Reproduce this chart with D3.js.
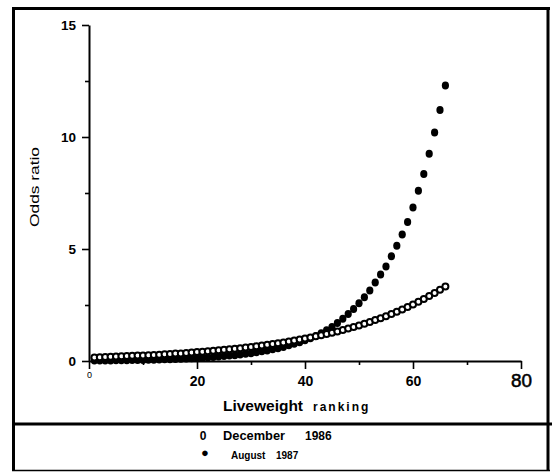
<!DOCTYPE html>
<html><head><meta charset="utf-8">
<script src="https://cdn.jsdelivr.net/npm/d3@7"></script>
<style>
html,body{margin:0;padding:0;background:#fff;}
svg{display:block;font-family:"Liberation Sans",Arial,sans-serif;}
</style></head>
<body><svg id="c" width="555" height="472"></svg>
<script>
const ranks = d3.range(1, 67);
const december1986 = [0.16,0.17,0.18,0.19,0.20,0.21,0.22,0.23,0.24,0.25,
  0.26,0.27,0.28,0.30,0.31,0.33,0.34,0.36,0.38,0.40,
  0.41,0.43,0.46,0.48,0.50,0.52,0.55,0.57,0.60,0.63,
  0.66,0.69,0.72,0.76,0.79,0.83,0.87,0.91,0.955,1.00,
  1.05,1.10,1.15,1.20,1.26,1.32,1.38,1.45,1.52,1.59,
  1.66,1.74,1.83,1.91,2.00,2.10,2.20,2.30,2.41,2.52,
  2.64,2.77,2.90,3.04,3.18,3.33];
const august1987 = [0.02,0.022,0.025,0.027,0.03,0.033,0.037,0.04,0.045,0.05,
  0.055,0.06,0.07,0.075,0.08,0.09,0.10,0.11,0.12,0.13,
  0.15,0.16,0.18,0.20,0.22,0.24,0.26,0.29,0.32,0.35,
  0.39,0.43,0.47,0.52,0.57,0.63,0.70,0.77,0.84,0.93,
  1.02,1.12,1.24,1.37,1.52,1.70,1.89,2.10,2.32,2.58,
  2.85,3.15,3.50,3.86,4.22,4.68,5.15,5.65,6.20,6.85,
  7.60,8.35,9.25,10.2,11.2,12.3];
const xTicks = [0,20,40,60,80];
const xMinor = [10,30,50,70];
const yTicks = [0,5,10,15];
const yMinor = [2.5,7.5,12.5];
const xTitle1 = "Liveweight", xTitle2 = "ranking";
const yTitle = "Odds ratio";
const legendLabels = [["0","December","1986"],["\u25CF","August","1987"]];

const svg = d3.select("#c");
const x = d3.scaleLinear().domain([0,80]).range([89,521]);
const y = d3.scaleLinear().domain([0,15]).range([361,25]);

// frame
const frame = svg.append("g").attr("stroke","#000").attr("fill","none");
frame.append("line").attr("x1",13.5).attr("x2",13.5).attr("y1",7).attr("y2",471).attr("stroke-width",3);
frame.append("line").attr("x1",12).attr("x2",550).attr("y1",8.5).attr("y2",8.5).attr("stroke-width",3);
frame.append("line").attr("x1",548).attr("x2",548).attr("y1",7).attr("y2",471).attr("stroke-width",3);
frame.append("line").attr("x1",12).attr("x2",552).attr("y1",424).attr("y2",424).attr("stroke-width",3);
frame.append("line").attr("x1",12).attr("x2",550).attr("y1",470.5).attr("y2",470.5).attr("stroke-width",1.5);

// axes
const yAxis = svg.append("g").attr("transform","translate(89,0)")
  .call(d3.axisLeft(y).tickValues(yTicks).tickSize(7).tickSizeOuter(0).tickPadding(6));
svg.append("g").attr("transform","translate(89,0)")
  .call(d3.axisLeft(y).tickValues(yMinor).tickSize(4).tickSizeOuter(0).tickFormat(""))
  .select(".domain").remove();
const xAxis = svg.append("g").attr("transform","translate(0,361)")
  .call(d3.axisBottom(x).tickValues(xTicks).tickSize(8).tickSizeOuter(0).tickPadding(6));
svg.append("g").attr("transform","translate(0,361)")
  .call(d3.axisBottom(x).tickValues(xMinor).tickSize(4).tickSizeOuter(0).tickFormat(""))
  .select(".domain").remove();
svg.selectAll(".domain").attr("stroke-width",2);
svg.selectAll(".tick line").attr("stroke-width",1.6);
yAxis.selectAll("text").attr("font-size",13.5).attr("font-weight","bold").attr("fill","#000")
  .attr("font-family","Liberation Sans, Arial, sans-serif");
xAxis.selectAll("text").attr("font-size",14).attr("font-weight","bold").attr("fill","#000")
  .attr("font-family","Liberation Sans, Arial, sans-serif").attr("dy","0.75em");
xAxis.selectAll(".tick").filter(d=>d===0).select("text").attr("font-size",9).attr("font-weight","normal").attr("y",10);
xAxis.selectAll(".tick").filter(d=>d===80).select("text").attr("font-size",18).attr("font-weight","normal")
  .attr("y",12).attr("textLength",21).attr("lengthAdjust","spacingAndGlyphs")
  .attr("stroke","#000").attr("stroke-width",0.5);

// data
const pts = svg.append("g");
pts.selectAll("ellipse.aug").data(august1987).join("ellipse").attr("class","aug")
  .attr("cx",(d,i)=>x(ranks[i])).attr("cy",d=>y(d))
  .attr("rx",3.6).attr("ry",4).attr("fill","#000");
pts.selectAll("circle.dec").data(december1986).join("circle").attr("class","dec")
  .attr("cx",(d,i)=>x(ranks[i])).attr("cy",d=>y(d))
  .attr("r",3).attr("fill","#fff").attr("stroke","#000").attr("stroke-width",2);

// titles
svg.append("text").attr("x",223).attr("y",411).attr("font-size",15).attr("font-weight","bold")
  .attr("textLength",80).attr("lengthAdjust","spacingAndGlyphs").text(xTitle1);
svg.append("text").attr("x",313).attr("y",411).attr("font-size",12).attr("font-weight","bold")
  .attr("letter-spacing",2).text(xTitle2);
svg.append("text").attr("transform","translate(39,187) rotate(-90)").attr("text-anchor","middle")
  .attr("font-size",13).attr("textLength",80).attr("lengthAdjust","spacingAndGlyphs").text(yTitle);

// legend
const leg = svg.append("g").attr("font-weight","bold").attr("fill","#000");
leg.append("text").attr("x",203).attr("y",440).attr("font-size",12).attr("text-anchor","middle").text(legendLabels[0][0]);
leg.append("text").attr("x",223).attr("y",440).attr("font-size",12).attr("textLength",62).attr("lengthAdjust","spacingAndGlyphs").text(legendLabels[0][1]);
leg.append("text").attr("x",305).attr("y",440).attr("font-size",12).text(legendLabels[0][2]);
leg.append("text").attr("x",205).attr("y",457).attr("font-size",13).attr("text-anchor","middle").text(legendLabels[1][0]);
leg.append("text").attr("x",231).attr("y",459).attr("font-size",10).text(legendLabels[1][1]);
leg.append("text").attr("x",276).attr("y",459).attr("font-size",10).text(legendLabels[1][2]);
</script></body></html>
